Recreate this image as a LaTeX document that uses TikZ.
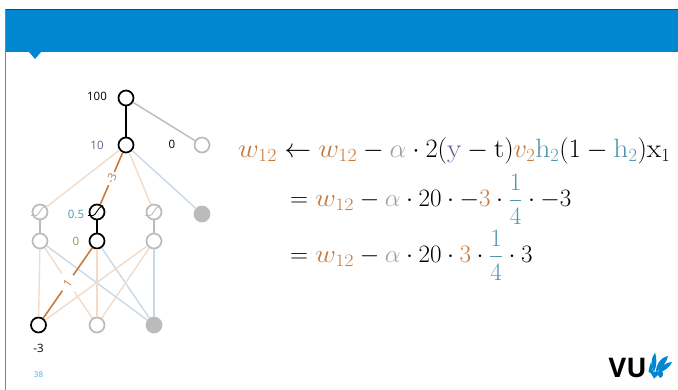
\documentclass[tikz,border=0pt]{standalone}
\usepackage{fix-cm}
\usepackage{amsmath}
\usepackage{graphicx}
\usepackage{fontspec}
\setsansfont{Open Sans}
\usetikzlibrary{calc}
\definecolor{hdr}{HTML}{0087CF}
\definecolor{ora}{HTML}{C87A3C}
\definecolor{lora}{HTML}{F1DCCB}
\definecolor{lblu}{HTML}{CBD8E5}
\definecolor{teal}{HTML}{4E97AC}
\definecolor{pur}{HTML}{6F5A96}
\definecolor{olv}{HTML}{86A04A}
\definecolor{gry}{HTML}{BBBBBB}
\definecolor{agry}{HTML}{A0A0A0}
\definecolor{pgn}{HTML}{4AABE8}
\newcommand{\wt}[1][1.15]{\textcolor{ora}{\mathord{\scalebox{#1}[1]{$w_{12}$}}}}
\newcommand{\wl}[1]{\mathord{\scalebox{1.12}[1]{$\mathrm{#1}$}}}
\tikzset{
 nn/.style={circle,draw=gry,fill=white,line width=1.7pt,minimum size=15pt,inner sep=0pt},
 act/.style={nn,draw=black},
 filled/.style={nn,fill=gry},
 edgeg/.style={line width=1.4pt,draw=gry},
 edgek/.style={line width=2pt,draw=black},
 edgeo/.style={line width=1.4pt,draw=lora},
 edgeb/.style={line width=1.4pt,draw=lblu},
 edgeO/.style={line width=1.6pt,draw=ora},
 lab/.style={font=\sffamily\fontsize{11.5}{14}\selectfont,inner sep=0pt},
 wlab/.style={lab,fill=white,inner sep=2pt},
 eqa/.style={anchor=base west,inner sep=0pt,font=\fontsize{26.5}{30}\selectfont},
 eqb/.style={anchor=base west,inner sep=0pt,font=\fontsize{25}{30}\selectfont},
 fea/.style={fill=hdr,draw=none},
}
\newcommand{\sigm}[2]{\draw[line width=.9pt,draw=#2] ($(#1)+(-9,3.5)$) -- ($(#1)+(-4,3.5)$) .. controls ($(#1)+(-1,3.5)$) and ($(#1)+(0,-4)$) .. ($(#1)+(6,-6.5)$);}
\begin{document}
\begin{tikzpicture}[x=1pt,y=-1pt]
\useasboundingbox (0,0) rectangle (678,390);
\fill[white] (0,0) rectangle (678,390);
\fill[hdr] (6,10) rectangle (678,52);
\fill[hdr] (29,52) -- (41,52) -- (35,59) -- cycle;
\draw[line width=1pt,draw=black!75] (5.5,9.5) -- (678,9.5);
\draw[line width=1pt,draw=black!50] (5.5,9.5) -- (5.5,390);
% nodes
\node[act] (t) at (126,98) {};
\node[act] (h) at (126,145) {};
\node[nn] (r) at (202,145) {};
\node[nn] (a1) at (40,212) {};
\node[act] (a2) at (97,212) {};
\node[nn] (a3) at (154,212) {};
\node[filled] (a4) at (202,214) {};
\node[nn] (b1) at (40,241) {};
\node[act] (b2) at (97,241) {};
\node[nn] (b3) at (154,241) {};
\node[act] (c1) at (38.5,325) {};
\node[nn] (c2) at (97,325) {};
\node[filled] (c3) at (154,325) {};
% edges
\draw[edgeg] (t) -- (r);
\draw[edgek] (t) -- (h);
\draw[edgeo] (h) -- (a1);
\draw[edgeo] (h) -- (a3);
\draw[edgeb] (h) -- (a4);
\draw[edgeO] (h) -- node[wlab,sloped,pos=.5,text=ora] (m3) {-3} (a2);
\draw[edgeg] (a1) -- (b1);
\draw[edgek] (a2) -- (b2);
\draw[edgeg] (a3) -- (b3);
\draw[edgeo] (b1) -- (c1);
\draw[edgeo] (b1) -- (c2);
\draw[edgeb] (b1) -- (c3);
\draw[edgeo] (b2) -- (c2);
\draw[edgeb] (b2) -- (c3);
\draw[edgeo] (b3) -- (c1);
\draw[edgeo] (b3) -- (c2);
\draw[edgeb] (b3) -- (c3);
\draw[edgeO] (b2) -- node[wlab,sloped,pos=.5,text=ora,inner sep=6pt] (m1) {1} (c1);
\sigm{a1}{gry}
\sigm{a2}{black}
\sigm{a3}{gry}
% labels
\node[lab] (l100) at (97,96.5) {100};
\node[lab,text=pur] (l10) at (97,145) {10};
\node[lab] (l0) at (172,144.5) {0};
\node[lab,text=teal] (l05) at (76,214.5) {0.5};
\node[lab,text=olv] (l00) at (76,241) {0};
\node[lab] (lm3) at (38.5,348.5) {-3};
\node[lab,text=pgn,font=\sffamily\fontsize{8}{9}\selectfont] (pg) at (38.5,375) {38};
% equations
\node[eqa] (e1) at (238,157.5) {$\wt[1.08]\leftarrow\wt[1.08]-\textcolor{agry}{\alpha}\cdot 2(\textcolor{pur}{\wl{y}}-\wl{t})\textcolor{ora}{v_2}\textcolor{teal}{\wl{h}_2}(1-\textcolor{teal}{\wl{h}_2})\wl{x}_1$};
\node[eqb] (e2) at (290,207) {$=\wt-\textcolor{agry}{\alpha}\cdot 20\cdot{-}\textcolor{ora}{3}\cdot\textcolor{teal}{\dfrac{1}{4}}\cdot{-}3$};
\node[eqb] (e3) at (290,263) {$=\wt-\textcolor{agry}{\alpha}\cdot 20\cdot\textcolor{ora}{3}\cdot\textcolor{teal}{\dfrac{1}{4}}\cdot 3$};
% logo
\node[anchor=base west,inner sep=0pt,font=\sffamily\bfseries\fontsize{27}{30}\selectfont] (vu) at (608.5,377.5) {VU};
\fill[fea] (654,372) .. controls (650,366) and (651,358) .. (655,352.5) .. controls (657,358) and (657,366) .. cycle;
\fill[fea] (656,372) .. controls (656,364) and (660,358) .. (668,356) .. controls (667,362) and (662,368) .. cycle;
\fill[fea] (657,373) .. controls (660,367) and (666,362) .. (672,362) .. controls (670,367) and (664,372) .. cycle;
\fill[fea] (648.5,372) .. controls (649,368) and (650,365) .. (651,362) .. controls (652,366) and (653,370) .. (653,374) -- cycle;
\fill[fea] (650,372) -- (662,371) .. controls (664,374) and (663,377) .. (660,378) -- (658,375) -- (654,378.5) -- (652,375) -- cycle;
\end{tikzpicture}
\end{document}
